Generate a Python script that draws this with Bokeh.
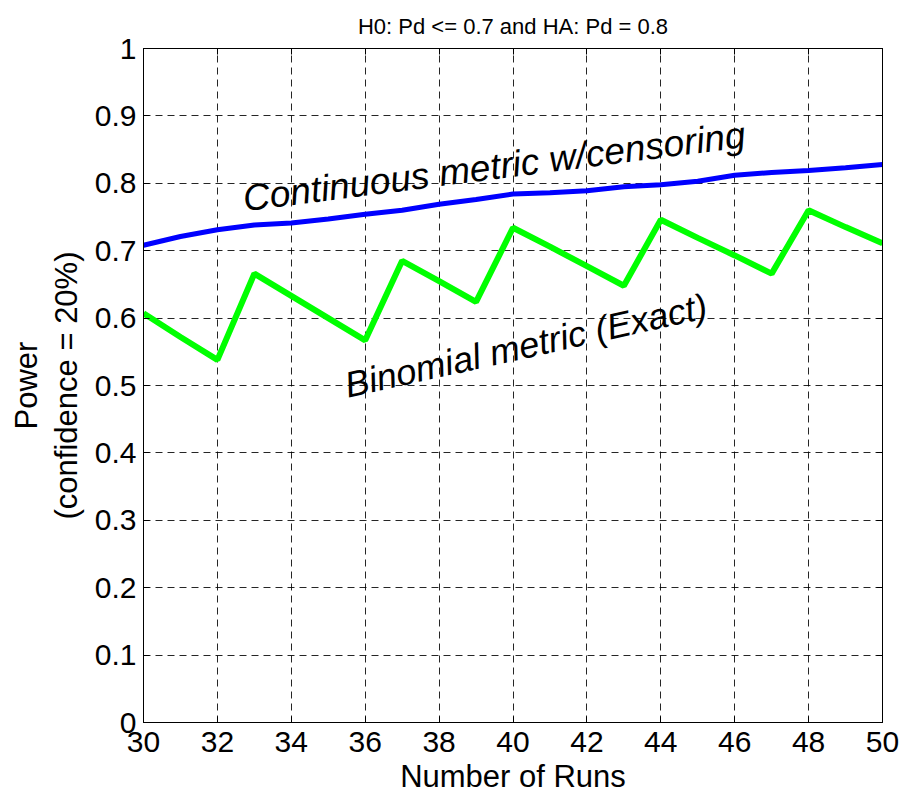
from bokeh.plotting import figure
from bokeh.embed import file_html
from bokeh.resources import INLINE
from bokeh.models import (FixedTicker, LinearAxis, Label, CustomJSTickFormatter, Range1d)

runs = list(range(30, 51))
continuous = [0.708, 0.721, 0.731, 0.738, 0.741, 0.747, 0.754, 0.760, 0.769, 0.776,
              0.784, 0.786, 0.789, 0.795, 0.798, 0.803, 0.812, 0.816, 0.819, 0.823, 0.828]
binomial = [0.607, 0.572, 0.538, 0.666, 0.633, 0.600, 0.567, 0.685, 0.655, 0.624,
            0.734, 0.706, 0.677, 0.648, 0.746, 0.719, 0.693, 0.666, 0.760, 0.735, 0.711]
x_ticks = [30, 32, 34, 36, 38, 40, 42, 44, 46, 48, 50]
y_ticks = [0, 0.1, 0.2, 0.3, 0.4, 0.5, 0.6, 0.7, 0.8, 0.9, 1.0]
title_text = "H0: Pd <= 0.7 and HA: Pd = 0.8"
x_label = "Number of Runs"
y_label = "Power\n(confidence = 20%)"
label_cont = "Continuous metric w/censoring"
label_binom = "Binomial metric (Exact)"

FONT = "Liberation Sans"

p = figure(width=900, height=796, output_backend="svg", toolbar_location=None,
           x_range=Range1d(30, 50), y_range=Range1d(0, 1),
           min_border_left=143, min_border_right=18, min_border_top=48, min_border_bottom=74)
p.title.text = title_text
p.title.align = "center"
p.title.text_font = FONT
p.title.text_font_size = "22px"
p.title.text_font_style = "normal"
p.title.text_color = "black"
p.title.standoff = 20

p.outline_line_color = "black"
p.outline_line_width = 1
p.outline_line_alpha = 1

p.line(runs, continuous, line_color="#0000FF", line_width=5)
p.line(runs, binomial, line_color="#00FF00", line_width=6)

fmt = CustomJSTickFormatter(code="return tick.toFixed(1).replace(/\\.0$/, '');")
blank = CustomJSTickFormatter(code="return '';")

for ax in list(p.xaxis) + list(p.yaxis):
    ax.major_label_text_font = FONT
    ax.major_label_text_font_size = "30px"
    ax.major_label_text_color = "black"
    ax.axis_label_text_font = FONT
    ax.axis_label_text_font_size = "31px"
    ax.axis_label_text_font_style = "normal"
    ax.axis_label_text_color = "black"
    ax.major_tick_in = 6
    ax.major_tick_out = 0
    ax.minor_tick_in = 0
    ax.minor_tick_out = 0
    ax.axis_line_color = "black"
    ax.major_tick_line_color = "black"

for ax in p.xaxis:
    ax.ticker = FixedTicker(ticks=x_ticks)
    ax.axis_label = x_label
    ax.major_label_standoff = 9
    ax.axis_label_standoff = 4
    ax.axis_label_text_line_height = 0.7
for ax in p.yaxis:
    ax.ticker = FixedTicker(ticks=y_ticks)
    ax.formatter = fmt
    ax.axis_label = y_label
    ax.major_label_standoff = 7
    ax.axis_label_standoff = 8
    ax.axis_label_text_line_height = 1.15

# box-style ticks on top and right
top = LinearAxis(ticker=FixedTicker(ticks=x_ticks), formatter=blank,
                 major_tick_in=6, major_tick_out=0, minor_tick_in=0, minor_tick_out=0,
                 axis_line_color="black", major_label_standoff=0)
right = LinearAxis(ticker=FixedTicker(ticks=y_ticks), formatter=blank,
                   major_tick_in=6, major_tick_out=0, minor_tick_in=0, minor_tick_out=0,
                   axis_line_color="black", major_label_standoff=0)
p.add_layout(top, "above")
p.add_layout(right, "right")

p.xgrid.ticker = FixedTicker(ticks=x_ticks)
p.ygrid.ticker = FixedTicker(ticks=y_ticks)
for g in (p.xgrid, p.ygrid):
    g.grid_line_color = "black"
    g.grid_line_dash = "7 5"
    g.grid_line_width = 1
    g.grid_line_alpha = 0.85

p.add_layout(Label(x=32.7, y=0.777, text=label_cont, angle=7.3, angle_units="deg",
                   text_font=FONT, text_font_size="37px", text_font_style="italic",
                   text_color="black", text_baseline="alphabetic"))
p.add_layout(Label(x=35.46, y=0.500, text=label_binom, angle=12.5, angle_units="deg",
                   text_font=FONT, text_font_size="36px", text_font_style="italic",
                   text_color="black", text_baseline="alphabetic"))

open("out.html", "w").write(file_html(p, INLINE))
